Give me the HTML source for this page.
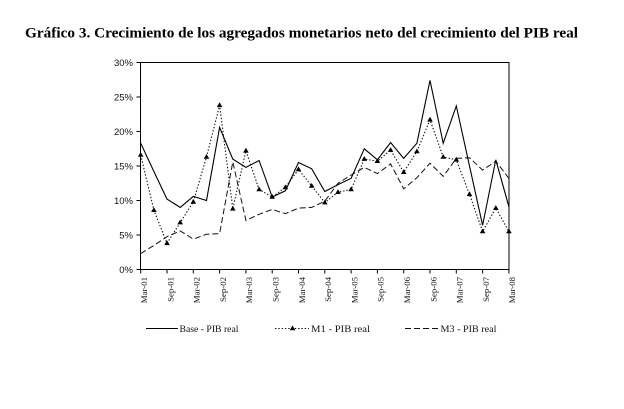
<!DOCTYPE html>
<html>
<head>
<meta charset="utf-8">
<style>
html,body{margin:0;padding:0;background:#fff;}
svg{display:block;}
</style>
</head>
<body>
<svg width="624" height="409" viewBox="0 0 624 409" xmlns="http://www.w3.org/2000/svg">
<defs>
<marker id="tri" markerUnits="userSpaceOnUse" markerWidth="8" markerHeight="8" refX="4" refY="4" viewBox="0 0 8 8">
<path d="M4,1 L6.8,5.8 L1.2,5.8 Z" fill="#000"/>
</marker>
</defs>
<rect width="624" height="409" fill="#fff"/>
<text x="25" y="37.5" font-family="Liberation Serif, serif" font-weight="bold" font-size="14.5" textLength="553" lengthAdjust="spacingAndGlyphs" fill="#000">Gráfico 3. Crecimiento de los agregados monetarios neto del crecimiento del PIB real</text>

<!-- plot frame -->
<rect x="140.5" y="62.5" width="368.5" height="207" fill="none" stroke="#000" stroke-width="1"/>

<!-- y ticks and labels -->
<g stroke="#000" stroke-width="1">
<line x1="136.5" y1="62.5" x2="140.5" y2="62.5"/>
<line x1="136.5" y1="97" x2="140.5" y2="97"/>
<line x1="136.5" y1="131.5" x2="140.5" y2="131.5"/>
<line x1="136.5" y1="166" x2="140.5" y2="166"/>
<line x1="136.5" y1="200.5" x2="140.5" y2="200.5"/>
<line x1="136.5" y1="235" x2="140.5" y2="235"/>
<line x1="136.5" y1="269.5" x2="140.5" y2="269.5"/>
</g>
<g font-family="Liberation Sans, DejaVu Sans, sans-serif" font-size="9.5" fill="#111" text-anchor="end">
<text x="133" y="66">30%</text>
<text x="133" y="100.5">25%</text>
<text x="133" y="135">20%</text>
<text x="133" y="169.5">15%</text>
<text x="133" y="204">10%</text>
<text x="133" y="238.5">5%</text>
<text x="133" y="273">0%</text>
</g>

<!-- x ticks -->
<g stroke="#000" stroke-width="1">
<line x1="140.7" y1="269.5" x2="140.7" y2="273.5"/>
<line x1="167.0" y1="269.5" x2="167.0" y2="273.5"/>
<line x1="193.3" y1="269.5" x2="193.3" y2="273.5"/>
<line x1="219.6" y1="269.5" x2="219.6" y2="273.5"/>
<line x1="245.9" y1="269.5" x2="245.9" y2="273.5"/>
<line x1="272.2" y1="269.5" x2="272.2" y2="273.5"/>
<line x1="298.5" y1="269.5" x2="298.5" y2="273.5"/>
<line x1="324.8" y1="269.5" x2="324.8" y2="273.5"/>
<line x1="351.1" y1="269.5" x2="351.1" y2="273.5"/>
<line x1="377.4" y1="269.5" x2="377.4" y2="273.5"/>
<line x1="403.7" y1="269.5" x2="403.7" y2="273.5"/>
<line x1="430.0" y1="269.5" x2="430.0" y2="273.5"/>
<line x1="456.3" y1="269.5" x2="456.3" y2="273.5"/>
<line x1="482.6" y1="269.5" x2="482.6" y2="273.5"/>
<line x1="508.9" y1="269.5" x2="508.9" y2="273.5"/>
</g>
<g font-family="Liberation Serif, serif" font-size="8.8" fill="#111" text-anchor="end">
<text transform="translate(147,277) rotate(-90)">Mar-01</text>
<text transform="translate(173.3,277) rotate(-90)">Sep-01</text>
<text transform="translate(199.6,277) rotate(-90)">Mar-02</text>
<text transform="translate(225.9,277) rotate(-90)">Sep-02</text>
<text transform="translate(252.2,277) rotate(-90)">Mar-03</text>
<text transform="translate(278.5,277) rotate(-90)">Sep-03</text>
<text transform="translate(304.8,277) rotate(-90)">Mar-04</text>
<text transform="translate(331.1,277) rotate(-90)">Sep-04</text>
<text transform="translate(357.4,277) rotate(-90)">Mar-05</text>
<text transform="translate(383.7,277) rotate(-90)">Sep-05</text>
<text transform="translate(410,277) rotate(-90)">Mar-06</text>
<text transform="translate(436.3,277) rotate(-90)">Sep-06</text>
<text transform="translate(462.6,277) rotate(-90)">Mar-07</text>
<text transform="translate(488.9,277) rotate(-90)">Sep-07</text>
<text transform="translate(515.2,277) rotate(-90)">Mar-08</text>
</g>

<!-- M3 dashed -->
<polyline fill="none" stroke="#111" stroke-width="1" stroke-dasharray="6,3" points="140.7,253.6 153.9,245.4 167.0,236.7 180.2,230.9 193.3,239.1 206.5,234.3 219.6,233.6 232.8,161.9 245.9,220.5 259.1,214.3 272.2,209.5 285.4,213.6 298.5,208.1 311.7,207.4 324.8,201.2 338.0,183.3 351.1,175.0 364.3,167.4 377.4,173.6 390.6,163.9 403.7,188.8 416.9,177.7 430.0,163.2 443.2,176.4 456.3,158.4 469.5,157.7 482.6,170.1 495.8,161.2 508.9,178.4"/>

<!-- M1 dotted with triangles -->
<polyline fill="none" stroke="#111" stroke-width="1.1" stroke-dasharray="1.4,1.9" marker-start="url(#tri)" marker-mid="url(#tri)" marker-end="url(#tri)" points="140.7,155.0 153.9,210.2 167.0,243.3 180.2,222.6 193.3,201.9 206.5,157.0 219.6,105.3 232.8,208.8 245.9,150.8 259.1,189.5 272.2,197.0 285.4,187.4 298.5,169.4 311.7,186.0 324.8,202.6 338.0,192.2 351.1,189.5 364.3,159.1 377.4,161.2 390.6,150.1 403.7,172.2 416.9,151.5 430.0,119.8 443.2,157.0 456.3,159.8 469.5,194.3 482.6,231.5 495.8,208.1 508.9,231.5"/>

<!-- Base solid -->
<polyline fill="none" stroke="#000" stroke-width="1.1" points="140.7,143.2 153.9,171.5 167.0,199.1 180.2,207.4 193.3,196.4 206.5,200.5 219.6,127.4 232.8,159.1 245.9,167.4 259.1,160.5 272.2,197.0 285.4,190.8 298.5,162.5 311.7,168.8 324.8,191.5 338.0,184.6 351.1,178.4 364.3,148.8 377.4,159.8 390.6,142.5 403.7,158.4 416.9,143.2 430.0,80.4 443.2,143.2 456.3,106.0 469.5,166.0 482.6,225.3 495.8,159.8 508.9,206.7"/>

<!-- Legend -->
<line x1="146" y1="328.5" x2="178" y2="328.5" stroke="#000" stroke-width="1"/>
<text x="179.5" y="332" font-family="Liberation Serif, serif" font-size="9.7" textLength="59" lengthAdjust="spacingAndGlyphs" fill="#111">Base - PIB real</text>

<line x1="275" y1="328.5" x2="309" y2="328.5" stroke="#111" stroke-width="1.1" stroke-dasharray="1.4,1.9"/>
<path d="M292.5,325.5 L295.3,330.3 L289.7,330.3 Z" fill="#000"/>
<text x="311" y="332" font-family="Liberation Serif, serif" font-size="9.7" textLength="59" lengthAdjust="spacingAndGlyphs" fill="#111">M1 - PIB real</text>

<line x1="405" y1="328.5" x2="440" y2="328.5" stroke="#111" stroke-width="1" stroke-dasharray="6,3"/>
<text x="440.5" y="332" font-family="Liberation Serif, serif" font-size="9.7" textLength="56" lengthAdjust="spacingAndGlyphs" fill="#111">M3 - PIB real</text>
</svg>
</body>
</html>
